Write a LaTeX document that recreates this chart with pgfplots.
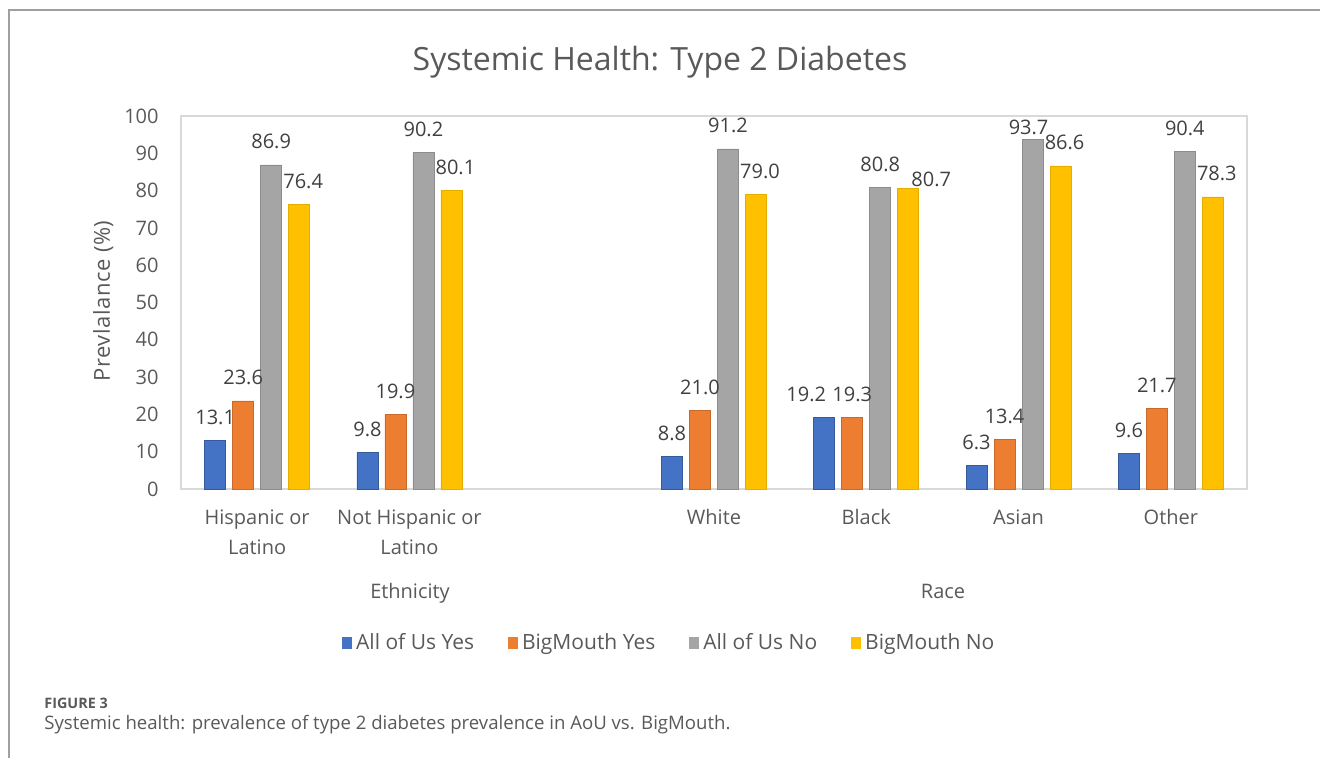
\documentclass[border=0pt]{standalone}
\usepackage{fontspec}
\setmainfont{Open Sans}
\usepackage{pgfplots}
\pgfplotsset{compat=1.18}
\definecolor{cBlue}{HTML}{4472C4}
\definecolor{cOrange}{HTML}{ED7D31}
\definecolor{cGray}{HTML}{A5A5A5}
\definecolor{cYellow}{HTML}{FFC000}
\definecolor{txt}{HTML}{595959}
\definecolor{lbl}{HTML}{404040}
\definecolor{frame}{HTML}{D9D9D9}
\begin{document}
\begin{tikzpicture}
\useasboundingbox (0,0) rectangle (660pt,379pt);
% figure frame
\draw[gray!75, line width=0.6pt] (4.5pt,0pt) -- (4.5pt,374pt) -- (660pt,374pt);
% title
\node[text=txt, font=\fontsize{16}{19}\selectfont] at (330pt,348pt) {Systemic Health: Type 2 Diabetes};
\begin{axis}[
  at={(90.5pt,134.5pt)}, anchor=south west,
  scale only axis, width=533pt, height=186.5pt,
  xmin=-0.5, xmax=6.5, ymin=0, ymax=100,
  ytick={0,10,...,100},
  xtick={0,1,3,4,5,6},
  xticklabels={{Hispanic or\\Latino},{Not Hispanic or\\Latino},White,Black,Asian,Other},
  /pgf/number format/assume math mode=true,
  axis line style={draw=frame, line width=0.6pt},
  major tick length=0pt,
  yticklabel style={font=\fontsize{10}{12}\selectfont, text=txt, inner sep=0pt, xshift=-11pt},
  xticklabel style={font=\fontsize{10}{15}\selectfont, text=txt, align=center, inner sep=0pt, yshift=-10pt},
  ylabel={Prevlalance (\%)},
  ylabel style={at={(axis description cs:-0.073,0.504)}, anchor=center, font=\fontsize{11}{13}\selectfont\addfontfeature{LetterSpace=2.5}, text=txt},
  legend style={at={(axis description cs:0.459,-0.413)}, anchor=center, draw=none, fill=none,
    legend columns=4, font=\fontsize{10.5}{12}\selectfont, text=txt,
    /tikz/every even column/.append style={column sep=15pt}},
  legend image code/.code={\fill[#1, draw=none] (0pt,-3pt) rectangle (5pt,3pt);},
  nodes near coords={\pgfmathprintnumber[fixed,fixed zerofill,precision=1]{\pgfplotspointmeta}},
  every node near coord/.append style={font=\fontsize{10}{12}\selectfont, text=lbl, anchor=base, inner sep=0pt, yshift=8pt},
  clip=false,
]
\addplot[ybar, bar width=10.5pt, bar shift=-21pt, fill=cBlue, draw=cBlue!80!black, line width=0.3pt,
  every node near coord/.append style={xshift=-21pt}]
  coordinates {(0,13.1) (1,9.8) (3,8.8) (5,6.3) (6,9.6)};
\addlegendentry{All of Us Yes}
\addplot[ybar, bar width=10.5pt, bar shift=-21pt, fill=cBlue, draw=cBlue!80!black, line width=0.3pt, forget plot,
  every node near coord/.append style={xshift=-30pt}]
  coordinates {(4,19.2)};
\addplot[ybar, bar width=10.5pt, bar shift=-7pt, fill=cOrange, draw=cOrange!85!black, line width=0.3pt,
  every node near coord/.append style={xshift=-7pt}]
  coordinates {(0,23.6) (1,19.9) (3,21.0) (4,19.3) (5,13.4) (6,21.7)};
\addlegendentry{BigMouth Yes}
\addplot[ybar, bar width=10.5pt, bar shift=7pt, fill=cGray, draw=cGray!85!black, line width=0.3pt,
  every node near coord/.append style={xshift=7pt}]
  coordinates {(0,86.9) (1,90.2) (3,91.2) (4,80.8) (6,90.4)};
\addlegendentry{All of Us No}
\addplot[ybar, bar width=10.5pt, bar shift=7pt, fill=cGray, draw=cGray!85!black, line width=0.3pt, forget plot,
  every node near coord/.append style={xshift=5pt, yshift=-5.5pt}]
  coordinates {(5,93.7)};
\addplot[ybar, bar width=10.5pt, bar shift=21pt, fill=cYellow, draw=cYellow!90!black, line width=0.3pt,
  every node near coord/.append style={xshift=23pt}]
  coordinates {(0,76.4) (1,80.1) (3,79.0) (5,86.6) (6,78.3)};
\addlegendentry{BigMouth No}
\addplot[ybar, bar width=10.5pt, bar shift=21pt, fill=cYellow, draw=cYellow!90!black, line width=0.3pt, forget plot,
  every node near coord/.append style={xshift=32.5pt, yshift=-7.5pt}]
  coordinates {(4,80.7)};
\end{axis}
% group labels
\node[anchor=base, text=txt, font=\fontsize{10}{12}\selectfont] at (205pt,79.5pt) {Ethnicity};
\node[anchor=base, text=txt, font=\fontsize{10}{12}\selectfont] at (471.5pt,79.5pt) {Race};
% caption
\node[anchor=west, inner sep=0pt, text=txt, font=\fontsize{7.2}{9}\selectfont\bfseries] at (22pt,27.5pt) {FIGURE 3};
\node[anchor=west, inner sep=0pt, text=txt, font=\fontsize{9.3}{11}\selectfont] at (22pt,16.5pt) {Systemic health: prevalence of type 2 diabetes prevalence in AoU vs. BigMouth.};
\end{tikzpicture}
\end{document}
